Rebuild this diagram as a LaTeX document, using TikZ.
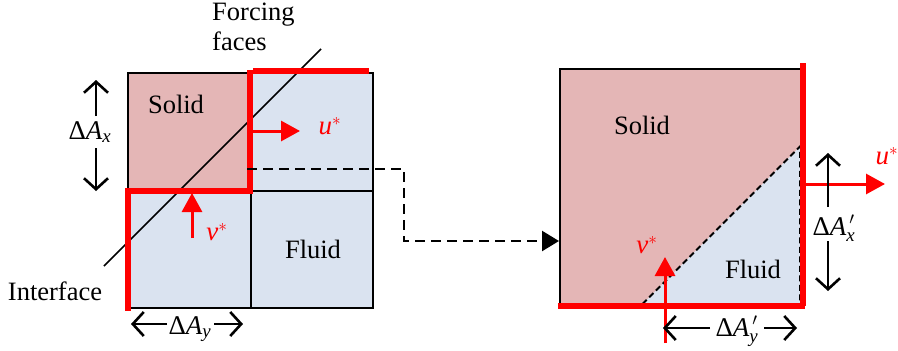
\documentclass[tikz,border=0pt]{standalone}
\usepackage{amsmath}
\usepackage{fontspec}
\setmainfont{Liberation Serif}
\usetikzlibrary{arrows.meta}
\definecolor{solidc}{HTML}{E4B6B6}
\definecolor{fluidc}{HTML}{DAE3F0}
\newcommand{\dA}[1]{$\text{Δ}\textit{A}_{\textit{#1}}$}
\newcommand{\dAp}[1]{$\text{Δ}\textit{A}_{\textit{#1}}^{\,\prime}$}
\newcommand{\vel}[1]{$\textit{#1}^{*}$}
\begin{document}
\begin{tikzpicture}[x=1pt,y=-1pt,
  lbl/.style={font=\fontsize{26.5}{30}\selectfont, inner sep=0pt},
  mlbl/.style={font=\fontsize{27}{31}\selectfont, inner sep=0pt},
  cellline/.style={draw=black,line width=2pt},
  redline/.style={draw=red,line width=6pt},
  redarr/.style={red,line width=3pt,-{Triangle[length=19pt,width=20pt]}},
  dimarr/.style={black,line width=2.6pt,-{Straight Barb[length=11pt,width=24pt,line width=2.6pt]}},
  conn/.style={black,line width=2.4pt,dash pattern=on 10pt off 6pt,-{Triangle[length=17pt,width=20pt]}},
  triedge/.style={black,line width=2pt,dash pattern=on 6pt off 3.5pt}
]
\useasboundingbox (0,0) rectangle (898,351);

% ---------- left figure ----------
\fill[solidc] (128,73) rectangle (250,190.5);
\fill[fluidc] (250,73) rectangle (373,190.5);
\fill[fluidc] (128,190.5) rectangle (250,308);
\fill[fluidc] (250,190.5) rectangle (373,308);
\draw[cellline] (128,73) rectangle (373,308);
\draw[cellline] (250.5,190.5) -- (250.5,308);
\draw[cellline] (250,190.5) -- (373,190.5);

% interface line
\coordinate (ia) at (104,266);
\coordinate (ib) at (321,49);
\draw[black,line width=1.6pt] (ia) -- (ib);

% red forcing faces
\draw[redline] (253,70.5) -- (369,70.5);
\draw[redline,line cap=rect] (249.5,73) -- (249.5,190.5) -- (127.5,190.5) -- (127.5,308);

% u*, v* arrows
\coordinate (us) at (252,131);
\coordinate (ue) at (300,131);
\draw[redarr] (us) -- (ue);
\node[mlbl,red] (ulab) at (330,126) {\vel{u}};
\coordinate (vs) at (192,238);
\coordinate (ve) at (192,193);
\draw[redarr] (vs) -- (ve);
\node[mlbl,red] (vlab) at (217,232) {\vel{v}};

% texts
\node[lbl] (solidL) at (176,104) {Solid};
\node[lbl] (fluidL) at (313,249) {Fluid};
\node[lbl,align=left,anchor=north west] (forcing) at (212,3) {Forcing\\faces};
\node[lbl] (iface) at (55,291) {Interface};

% Delta A_x
\node[mlbl] (dax) at (90,132) {\dA{x}};
\coordinate (daxt) at (96,80);
\coordinate (daxb) at (96,191);
\draw[dimarr] (96,116) -- (daxt);
\draw[dimarr] (96,148) -- (daxb);

% Delta A_y
\node[mlbl] (day) at (190,329) {\dA{y}};
\coordinate (dayl) at (131,324);
\coordinate (dayr) at (243,324);
\draw[dimarr] (167,324) -- (dayl);
\draw[dimarr] (214,324) -- (dayr);

% ---------- connector ----------
\coordinate (c0) at (247,169);
\coordinate (c1) at (404,169);
\coordinate (c2) at (404,241);
\coordinate (c3) at (559,241);
\draw[conn] (c0) -- (c1) -- (c2) -- (c3);

% ---------- right figure ----------
\fill[solidc] (560,68.5) rectangle (800,304);
\fill[fluidc] (642.5,304) -- (800,304) -- (800,146.5) -- cycle;
\draw[cellline] (800,68.5) -- (560,68.5) -- (560,304);
\draw[triedge] (642.5,304) -- (800,146.5) -- (800,304) -- cycle;
\draw[redline] (802.5,63) -- (802.5,305.5);
\draw[redline] (558,305.5) -- (805,305.5);

\node[lbl] (solidR) at (642,125) {Solid};
\node[lbl] (fluidR) at (753,269) {Fluid};

\coordinate (u2s) at (804,184);
\coordinate (u2e) at (885,184);
\draw[redarr] (u2s) -- (u2e);
\node[mlbl,red] (u2lab) at (887,156) {\vel{u}};

\coordinate (v2s) at (665,343);
\coordinate (v2e) at (665,257);
\draw[redarr] (v2s) -- (v2e);
\node[mlbl,red] (v2lab) at (647,245) {\vel{v}};

\node[mlbl] (daxp) at (834,228) {\dAp{x}};
\coordinate (daxpt) at (828,153);
\coordinate (daxpb) at (828,291);
\draw[dimarr] (828,207) -- (daxpt);
\draw[dimarr] (828,241) -- (daxpb);

\node[mlbl] (dayp) at (737,331) {\dAp{y}};
\coordinate (daypl) at (663,328);
\coordinate (daypr) at (797,328);
\draw[dimarr] (710,328) -- (daypl);
\draw[dimarr] (764,328) -- (daypr);
\end{tikzpicture}
\end{document}
